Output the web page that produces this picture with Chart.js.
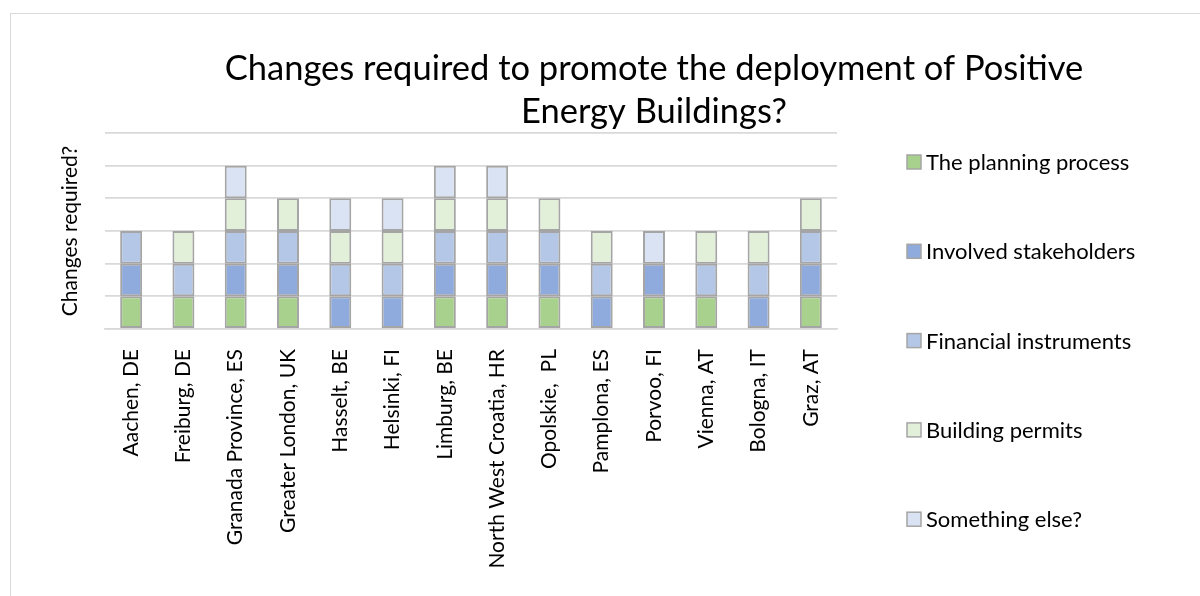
<!DOCTYPE html>
<html>
<head>
<meta charset="utf-8">
<title>Changes required</title>
<script src="https://cdn.jsdelivr.net/npm/chart.js@4.4.1/dist/chart.umd.min.js"></script>
<style>
  html, body { margin: 0; padding: 0; background: #fff; }
  #wrap { width: 1200px; height: 596px; position: relative; }
</style>
</head>
<body>
<div id="wrap"><canvas id="changesChart"></canvas></div>
<script>
// Regiões avaliadas
const regioes = [
  'Aachen, DE', 'Freiburg, DE', 'Granada Province, ES', 'Greater London, UK',
  'Hasselt, BE', 'Helsinki, FI', 'Limburg, BE', 'North West Croatia, HR',
  'Opolskie,  PL', 'Pamplona, ES', 'Porvoo, FI', 'Vienna, AT', 'Bologna, IT', 'Graz, AT'
];

// Respostas por categoria (1 = mudança necessária)
const planningProcess      = [1, 1, 1, 1, 0, 0, 1, 1, 1, 0, 1, 1, 0, 1];
const involvedStakeholders = [1, 0, 1, 1, 1, 1, 1, 1, 1, 1, 1, 0, 1, 1];
const financialInstruments = [1, 1, 1, 1, 1, 1, 1, 1, 1, 1, 0, 1, 1, 1];
const buildingPermits      = [0, 1, 1, 1, 1, 1, 1, 1, 1, 1, 0, 1, 1, 1];
const somethingElse        = [0, 0, 1, 0, 1, 1, 1, 1, 0, 0, 1, 0, 0, 0];

const tituloLinhas = ['Changes required to promote the deployment of Positive', 'Energy Buildings?'];
const fonte = 'Lato, "Open Sans", sans-serif';

// Moldura cinza do gráfico
const molduraPlugin = {
  id: 'moldura',
  beforeDraw(chart) {
    const c = chart.ctx;
    c.save();
    c.strokeStyle = '#d9d9d9';
    c.lineWidth = 1;
    c.strokeRect(10.5, 13.5, 1400, 800);
    c.restore();
  }
};

// Título em duas linhas centralizado
const tituloPlugin = {
  id: 'tituloDuasLinhas',
  afterDraw(chart) {
    const c = chart.ctx;
    c.save();
    c.fillStyle = '#000';
    c.font = '34.5px ' + fonte;
    c.textAlign = 'center';
    c.textBaseline = 'alphabetic';
    c.fillText(tituloLinhas[0], 654, 80);
    c.fillText(tituloLinhas[1], 654, 123);
    c.restore();
  }
};

// Legenda vertical à direita
const legendaPlugin = {
  id: 'legendaDireita',
  afterDraw(chart) {
    const c = chart.ctx;
    c.save();
    c.font = '22px ' + fonte;
    c.textBaseline = 'middle';
    chart.data.datasets.forEach((ds, i) => {
      const y = 162 + i * 89.3;
      c.fillStyle = ds.backgroundColor;
      c.fillRect(907, y - 7, 14, 14);
      c.strokeStyle = '#a5a5a5';
      c.lineWidth = 1.5;
      c.strokeRect(907, y - 7, 14, 14);
      c.fillStyle = '#000';
      c.fillText(ds.label, 926, y + 1);
    });
    c.restore();
  }
};

function serie(label, data, cor) {
  return {
    label: label,
    data: data,
    backgroundColor: cor,
    borderColor: '#a5a5a5',
    borderWidth: 2,
    borderSkipped: false,
    barPercentage: 0.42,
    categoryPercentage: 1
  };
}

new Chart(document.getElementById('changesChart'), {
  type: 'bar',
  data: {
    labels: regioes,
    datasets: [
      serie('The planning process', planningProcess, '#a9d18e'),
      serie('Involved stakeholders', involvedStakeholders, '#8faadc'),
      serie('Financial instruments', financialInstruments, '#b4c7e7'),
      serie('Building permits', buildingPermits, '#e2f0d9'),
      serie('Something else?', somethingElse, '#dae3f3')
    ]
  },
  options: {
    responsive: true,
    maintainAspectRatio: false,
    animation: false,
    layout: {
      padding: { top: 133, right: 363, bottom: 0, left: 0 }
    },
    plugins: {
      legend: { display: false },
      tooltip: { enabled: false }
    },
    scales: {
      x: {
        stacked: true,
        grid: { display: false },
        border: { color: '#d9d9d9', width: 1.5 },
        ticks: {
          color: '#000',
          maxRotation: 90,
          minRotation: 90,
          padding: 12,
          font: { family: fonte, size: 21 }
        },
        afterFit(scale) { scale.height = 267; }
      },
      y: {
        stacked: true,
        min: 0,
        max: 6,
        border: { display: false },
        grid: { color: '#d9d9d9', lineWidth: 1.8, drawTicks: false },
        ticks: { display: false, stepSize: 1 },
        title: {
          display: true,
          text: 'Changes required?',
          color: '#000',
          font: { family: fonte, size: 21 },
          padding: { top: 58, bottom: 0 }
        },
        afterFit(scale) { scale.width = 105; }
      }
    }
  },
  plugins: [molduraPlugin, tituloPlugin, legendaPlugin]
});
</script>
</body>
</html>
